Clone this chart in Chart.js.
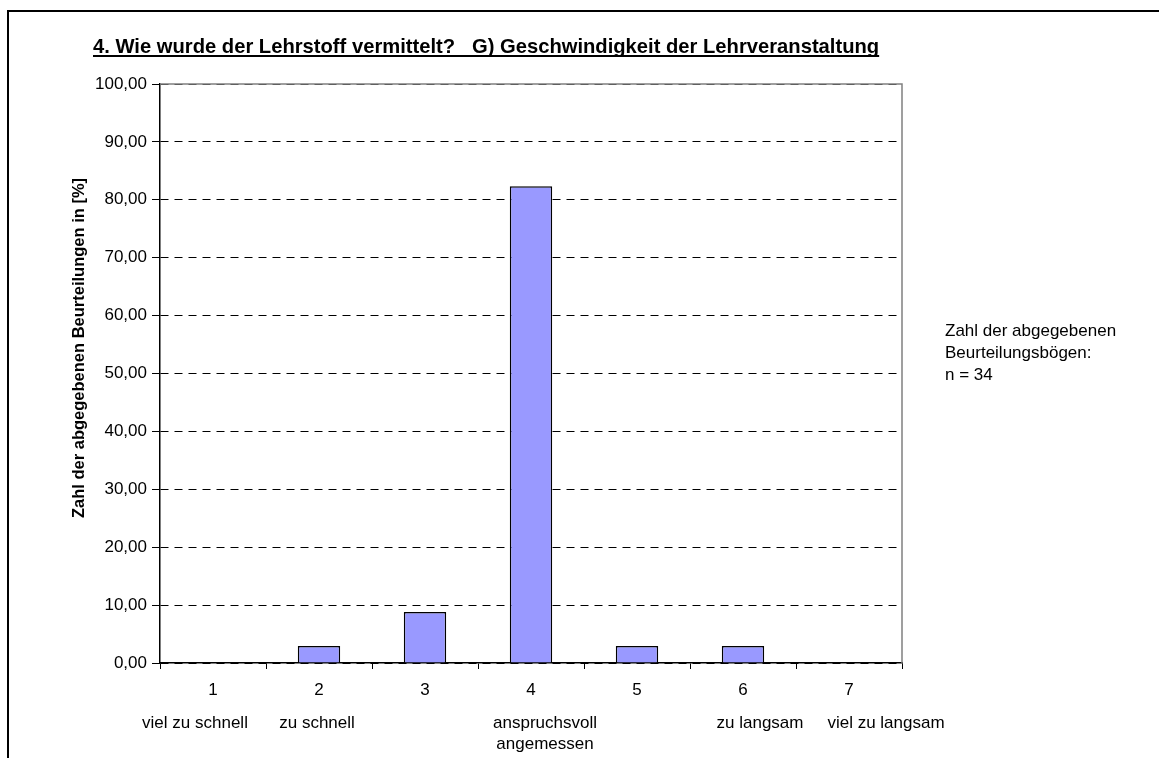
<!DOCTYPE html>
<html>
<head>
<meta charset="utf-8">
<script src="https://cdn.jsdelivr.net/npm/chart.js@4.4.1/dist/chart.umd.min.js"></script>
<style>
    body { margin: 0; background: #fff; }
    #wrap { position: relative; width: 1159px; height: 758px; }
</style>
</head>
<body>
<div id="wrap"><canvas id="chart"></canvas></div>
<script>
// Data (n = 34 forms)
const categories = ['1', '2', '3', '4', '5', '6', '7'];
const descriptions = [['viel zu schnell'], ['zu schnell'], [''], ['anspruchsvoll', 'angemessen'], [''], ['zu langsam'], ['viel zu langsam']];
const percentValues = [0, 2.94, 8.82, 82.35, 2.94, 2.94, 0];
const chartTitle = '4. Wie wurde der Lehrstoff vermittelt?   G) Geschwindigkeit der Lehrveranstaltung';
const yAxisTitle = 'Zahl der abgegebenen Beurteilungen in [%]';
const noteLines = ['Zahl der abgegebenen', 'Beurteilungsbögen:', 'n = 34'];

const FONT_FAMILY = '"Liberation Sans", Arial, sans-serif';
// the description text boxes are not exactly centred under the categories
const descShift = [-18, -2, 0, 14, 0, 17, 37];

function germanNumber(v) {
    return v.toFixed(2).replace('.', ',');
}

// frame, underlined title, y title, plot border, description labels and note
const decorations = {
    id: 'decorations',
    beforeDraw(chart) {
        const ctx = chart.ctx;
        const a = chart.chartArea;
        ctx.save();
        ctx.fillStyle = '#fff';
        ctx.fillRect(0, 0, chart.width, chart.height);
        ctx.strokeStyle = '#000';
        ctx.lineWidth = 2;
        ctx.beginPath();
        ctx.moveTo(8, chart.height + 5);
        ctx.lineTo(8, 11);
        ctx.lineTo(chart.width + 5, 11);
        ctx.stroke();

        ctx.font = 'bold 20.2px ' + FONT_FAMILY;
        ctx.fillStyle = '#000';
        ctx.textBaseline = 'alphabetic';
        const tx = 93, ty = 53;
        ctx.fillText(chartTitle, tx, ty);
        const w = ctx.measureText(chartTitle).width;
        ctx.lineWidth = 2;
        ctx.beginPath();
        ctx.moveTo(tx, ty + 3);
        ctx.lineTo(tx + w, ty + 3);
        ctx.stroke();

        ctx.translate(79, a.top + 264);
        ctx.rotate(-Math.PI / 2);
        ctx.font = 'bold 16.5px ' + FONT_FAMILY;
        ctx.textAlign = 'center';
        ctx.textBaseline = 'middle';
        ctx.fillText(yAxisTitle, 0, 0);
        ctx.restore();
    },
    beforeDatasetsDraw(chart) {
        const ctx = chart.ctx;
        const a = chart.chartArea;
        ctx.save();
        ctx.strokeStyle = '#808080';
        ctx.lineWidth = 1.5;
        ctx.beginPath();
        ctx.moveTo(a.left, a.top);
        ctx.lineTo(a.right, a.top);
        ctx.lineTo(a.right, a.bottom);
        ctx.stroke();
        ctx.restore();
    },
    afterDraw(chart) {
        const ctx = chart.ctx;
        const x = chart.scales.x;
        const a = chart.chartArea;
        ctx.save();
        ctx.font = '17px ' + FONT_FAMILY;
        ctx.fillStyle = '#000';
        ctx.textAlign = 'center';
        ctx.textBaseline = 'middle';
        descriptions.forEach((lines, i) => {
            const cx = x.getPixelForValue(i) + descShift[i];
            lines.forEach((line, j) => {
                ctx.fillText(line, cx, a.bottom + 60 + j * 21);
            });
        });
        ctx.textAlign = 'left';
        noteLines.forEach((line, j) => {
            ctx.fillText(line, a.right + 43, a.top + 247 + j * 22);
        });
        ctx.restore();
    }
};

const ctx = document.getElementById('chart');
new Chart(ctx, {
    type: 'bar',
    data: {
        labels: categories,
        datasets: [{
            data: percentValues,
            backgroundColor: '#9999FF',
            borderColor: '#000',
            borderWidth: 1.5,
            categoryPercentage: 1,
            barPercentage: 0.4,
        }],
    },
    options: {
        responsive: true,
        maintainAspectRatio: false,
        animation: false,
        layout: { padding: { left: 0, right: 257, top: 84, bottom: 0 } },
        plugins: {
            legend: { display: false },
            title: { display: false },
            tooltip: { enabled: false },
        },
        scales: {
            x: {
                grid: {
                    offset: true,
                    drawOnChartArea: false,
                    drawTicks: true,
                    tickLength: 6,
                    tickColor: '#000',
                },
                border: { color: '#000', width: 1.5 },
                ticks: {
                    color: '#000',
                    padding: 11,
                    font: { family: FONT_FAMILY, size: 17 },
                },
                afterFit: (scale) => { scale.height = 95; },
            },
            y: {
                min: 0,
                max: 100,
                ticks: {
                    stepSize: 10,
                    color: '#000',
                    padding: 5,
                    font: { family: FONT_FAMILY, size: 17 },
                    callback: (v) => germanNumber(v),
                },
                grid: {
                    color: '#000',
                    tickBorderDash: [],
                    tickColor: '#000',
                    tickLength: 8,
                },
                border: { color: '#000', width: 1.5, dash: [8, 6] },
                afterFit: (scale) => { scale.width = 160; },
            },
        },
    },
    plugins: [decorations],
});
</script>
</body>
</html>
